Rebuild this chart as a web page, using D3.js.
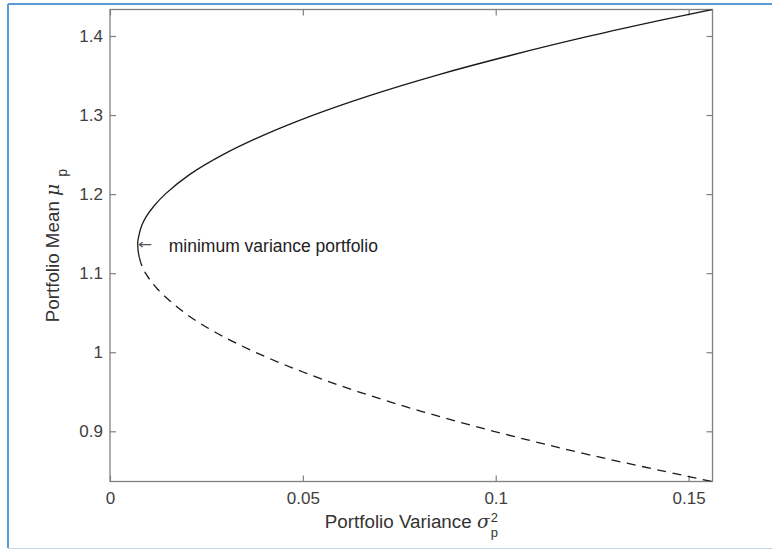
<!DOCTYPE html>
<html><head><meta charset="utf-8">
<script src="https://cdn.jsdelivr.net/npm/d3@7/dist/d3.min.js"></script>
<style>
html,body{margin:0;padding:0;background:#fff;}
svg{display:block;font-family:"Liberation Sans",Arial,Helvetica,sans-serif;}
</style></head>
<body>
<svg id="chart" width="772" height="550"></svg>
<script>
// Efficient (upper, solid) part of the frontier: portfolio mean vs variance
const muUpper  = [1.4335, 1.42, 1.40, 1.375, 1.35, 1.325, 1.30, 1.275, 1.25, 1.225, 1.20, 1.185, 1.17, 1.16, 1.15, 1.14, 1.135, 1.128, 1.12];
const varUpper = [0.1561, 0.1429, 0.1245, 0.1035, 0.0844, 0.0675, 0.0527, 0.0400, 0.0293, 0.0207, 0.0143, 0.0114, 0.0092, 0.0082, 0.0076, 0.0072, 0.0072, 0.0073, 0.0076];
// Inefficient (lower, dashed) part
const muLower  = [1.12, 1.11, 1.10, 1.08, 1.05, 1.025, 1.00, 0.975, 0.95, 0.925, 0.90, 0.87, 0.8365];
const varLower = [0.0076, 0.0082, 0.0092, 0.0123, 0.0193, 0.0274, 0.0377, 0.0500, 0.0644, 0.0809, 0.0995, 0.1245, 0.1561];
// Minimum variance portfolio
const minVar = [0.0072], minMu = [1.135];
const xTicks = [0, 0.05, 0.1, 0.15];
const yTicks = [0.9, 1, 1.1, 1.2, 1.3, 1.4];
const xDomain = [0, 0.1562];
const yDomain = [0.8365, 1.4335];

const svg = d3.select("#chart");
const L = 110, R = 712.5, T = 9.5, B = 481.5;
const x = d3.scaleLinear().domain(xDomain).range([L, R]);
const y = d3.scaleLinear().domain(yDomain).range([B, T]);

// outer frame
svg.append("line").attr("x1",8).attr("x2",8).attr("y1",4).attr("y2",548).attr("stroke","#5b9bd5").attr("stroke-width",2);
svg.append("line").attr("x1",8).attr("x2",772).attr("y1",4).attr("y2",4).attr("stroke","#5b9bd5").attr("stroke-width",2);
svg.append("line").attr("x1",8).attr("x2",772).attr("y1",548.5).attr("y2",548.5).attr("stroke","#c5d3e3").attr("stroke-width",1);

const axisColor = "#808080", tickText = "#404040";
const tl = 6;
function styleAxis(g){
  g.select(".domain").remove();
  g.selectAll(".tick line").attr("stroke", axisColor).attr("stroke-width",1.2);
  g.selectAll(".tick text").attr("fill", tickText).style("font-size","17px").style("font-family","'Liberation Sans',Arial,sans-serif");
}
const fmt = d => d3.format("")(d);
// bottom
svg.append("g").attr("transform",`translate(0,${B})`)
  .call(d3.axisBottom(x).tickValues(xTicks).tickFormat(fmt).tickSizeInner(-tl).tickSizeOuter(0).tickPadding(10))
  .call(styleAxis);
// top
svg.append("g").attr("transform",`translate(0,${T})`)
  .call(d3.axisTop(x).tickValues(xTicks).tickFormat("").tickSizeInner(-tl).tickSizeOuter(0))
  .call(styleAxis);
// left
svg.append("g").attr("transform",`translate(${L},0)`)
  .call(d3.axisLeft(y).tickValues(yTicks).tickFormat(fmt).tickSizeInner(-tl).tickSizeOuter(0).tickPadding(7))
  .call(styleAxis);
// right
svg.append("g").attr("transform",`translate(${R},0)`)
  .call(d3.axisRight(y).tickValues(yTicks).tickFormat("").tickSizeInner(-tl).tickSizeOuter(0))
  .call(styleAxis);

// box
svg.append("rect").attr("x",L).attr("y",T).attr("width",R-L).attr("height",B-T)
  .attr("fill","none").attr("stroke",axisColor).attr("stroke-width",1.3);

// curves
const line = d3.line().x(d=>x(d[0])).y(d=>y(d[1])).curve(d3.curveCatmullRom.alpha(0.5));
const up = varUpper.map((v,i)=>[v,muUpper[i]]);
const lo = varLower.map((v,i)=>[v,muLower[i]]);
svg.append("clipPath").attr("id","clip").append("rect").attr("x",L).attr("y",T).attr("width",R-L).attr("height",B-T);
const pg = svg.append("g").attr("clip-path","url(#clip)");
pg.append("path").attr("d",line(up)).attr("fill","none").attr("stroke","#1a1a1a").attr("stroke-width",1.3);
pg.append("path").attr("d",line(lo)).attr("fill","none").attr("stroke","#1a1a1a").attr("stroke-width",1.3).attr("stroke-dasharray","9,6.5");

// annotation
const ax0 = x(minVar[0]), ay0 = y(minMu[0]);
svg.append("text").attr("x",ax0).attr("y",ay0+5)
  .attr("fill","#555").style("font-size","17px").style("font-family","'DejaVu Sans',sans-serif")
  .attr("transform",`translate(${ax0},${ay0}) scale(1,0.8) translate(${-ax0},${-ay0})`)
  .text("\u2190");
svg.append("text").attr("x",ax0+31).attr("y",ay0+6)
  .attr("fill","#222").style("font-size","17.5px")
  .text("minimum variance portfolio");

// x label
const xl = svg.append("g");
const xt = xl.append("text").attr("x",0).attr("y",0).attr("fill","#333").style("font-size","18.8px");
xt.append("tspan").text("Portfolio Variance ");
xt.append("tspan").style("font-style","italic").style("font-family","'DejaVu Serif',serif").text("\u03C3");
const w1 = xt.node().getComputedTextLength();
xl.append("text").attr("x",w1+1).attr("y",-6).attr("fill","#333").style("font-size","13px").text("2");
xl.append("text").attr("x",w1+1).attr("y",9).attr("fill","#333").style("font-size","13px").text("p");
xl.attr("transform",`translate(${(L+R)/2 - (w1+8)/2},528)`);

// y label
const yl = svg.append("g");
const yt = yl.append("text").attr("x",0).attr("y",0).attr("fill","#333").style("font-size","18.8px");
yt.append("tspan").text("Portfolio Mean ");
yt.append("tspan").style("font-style","italic").style("font-family","'DejaVu Serif',serif").text("\u03BC");
const w2 = yt.node().getComputedTextLength();
yl.append("text").attr("x",w2+7).attr("y",8).attr("fill","#333").style("font-size","14px").text("p");
yl.attr("transform",`translate(59,${(T+B)/2 + (w2+15)/2}) rotate(-90)`);
</script>
</body></html>
